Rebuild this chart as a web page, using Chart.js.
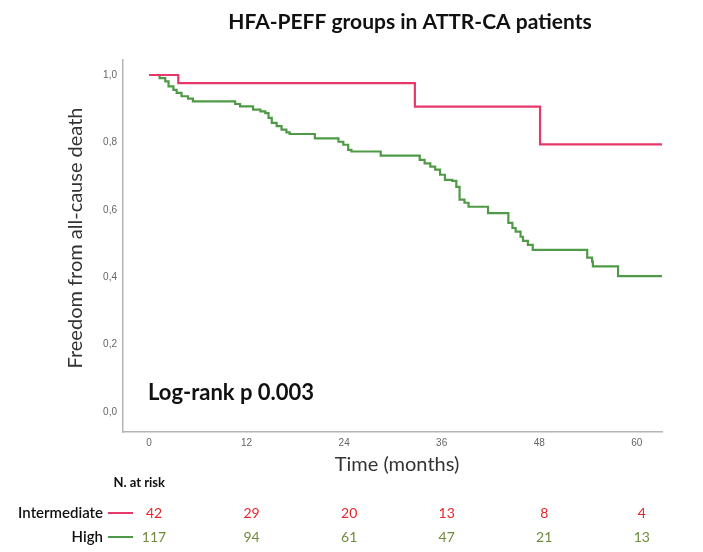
<!DOCTYPE html>
<html>
<head>
<meta charset="utf-8">
<script src="https://cdn.jsdelivr.net/npm/chart.js@4.4.1/dist/chart.umd.min.js"></script>
<style>
  html, body { margin: 0; padding: 0; background: #fff; }
  #wrap { width: 703px; height: 552px; position: relative; }
</style>
</head>
<body>
<div id="wrap"><canvas id="km" width="703" height="552"></canvas></div>
<script>
// Kaplan-Meier steps: time (months) of each drop and survival after it
const interTime = [0, 3.6, 32.7, 48.1, 63.1];
const interSurv = [1, 0.976, 0.906, 0.794, 0.794];

const highTime = [0, 1.3, 2.0, 2.4, 3.0, 3.4, 4.0, 4.8, 5.4, 10.6, 11.2, 12.8, 13.7, 14.3, 14.7,
  15.1, 15.7, 16.3, 16.9, 17.3, 20.4, 23.3, 23.9, 24.5, 24.9, 28.5, 33.3, 33.9, 34.6, 35.2,
  35.8, 36.4, 37.3, 37.8, 38.2, 38.8, 39.3, 41.7, 44.2, 44.7, 45.1, 45.7, 46.0, 46.6, 47.2,
  53.9, 54.5, 54.6, 57.7, 63.1];
const highSurv = [1, 0.991, 0.981, 0.966, 0.956, 0.947, 0.937, 0.930, 0.922, 0.914, 0.907, 0.897, 0.892, 0.887, 0.873,
  0.858, 0.848, 0.838, 0.830, 0.825, 0.812, 0.802, 0.793, 0.778, 0.773, 0.761, 0.748, 0.738, 0.728, 0.719,
  0.704, 0.689, 0.686, 0.668, 0.630, 0.621, 0.609, 0.590, 0.561, 0.546, 0.535, 0.520, 0.508, 0.496, 0.481,
  0.458, 0.446, 0.432, 0.403, 0.403];

const xTicks = [0, 12, 24, 36, 48, 60];
const yTicks = [0, 0.2, 0.4, 0.6, 0.8, 1.0];

// numbers at risk
const riskTimes = [0, 12, 24, 36, 48, 60];
const interRisk = [42, 29, 20, 13, 8, 4];
const highRisk = [117, 94, 61, 47, 21, 13];

const RED = '#e8386a';
const GREEN = '#4f9a47';

function pts(xs, ys) {
  return xs.map((x, i) => ({ x: x, y: ys[i] }));
}

const textPlugin = {
  id: 'kmText',
  afterDraw(chart) {
    const ctx = chart.ctx;
    const xs = chart.scales.x;
    const area = chart.chartArea;
    ctx.save();
    ctx.textBaseline = 'middle';

    // title
    ctx.fillStyle = '#111';
    ctx.font = 'bold 21px Lato, "Open Sans", sans-serif';
    ctx.textAlign = 'center';
    ctx.fillText('HFA-PEFF groups in ATTR-CA patients', 410, 22);

    // y axis title
    ctx.save();
    ctx.translate(76, 238);
    ctx.rotate(-Math.PI / 2);
    ctx.fillStyle = '#333';
    ctx.font = '20px Lato, "Open Sans", sans-serif';
    ctx.fillText('Freedom from all-cause death', 0, 0);
    ctx.restore();

    // x axis title
    ctx.fillStyle = '#333';
    ctx.font = '20px Lato, "Open Sans", sans-serif';
    ctx.fillText('Time (months)', 397, 465);

    // log-rank
    ctx.fillStyle = '#111';
    ctx.font = 'bold 22px Lato, "Open Sans", sans-serif';
    ctx.textAlign = 'left';
    ctx.fillText('Log-rank p 0.003', area.left + 25, 393);

    // risk table
    ctx.font = 'bold 13px Lato, sans-serif';
    ctx.textAlign = 'right';
    ctx.fillStyle = '#111';
    ctx.fillText('N. at risk', 165, 483);

    const rows = [
      { label: 'Intermediate', vals: interRisk, line: RED, num: '#e3262d', y: 513 },
      { label: 'High', vals: highRisk, line: GREEN, num: '#6f8b3c', y: 537 }
    ];
    rows.forEach(r => {
      ctx.font = '600 15px Lato, sans-serif';
      ctx.textAlign = 'right';
      ctx.fillStyle = '#111';
      ctx.fillText(r.label, 103, r.y);
      ctx.strokeStyle = r.line;
      ctx.lineWidth = 2;
      ctx.beginPath();
      ctx.moveTo(108, r.y);
      ctx.lineTo(133, r.y);
      ctx.stroke();
      ctx.textAlign = 'center';
      ctx.fillStyle = r.num;
      ctx.font = '14px Lato, sans-serif';
      r.vals.forEach((v, i) => {
        ctx.fillText(String(v), xs.getPixelForValue(riskTimes[i]) + 5, r.y);
      });
    });
    ctx.restore();
  }
};

new Chart(document.getElementById('km'), {
  type: 'line',
  data: {
    datasets: [
      {
        label: 'Intermediate',
        data: pts(interTime, interSurv),
        borderColor: RED,
        borderWidth: 2.2,
        stepped: true,
        pointRadius: 0,
        fill: false
      },
      {
        label: 'High',
        data: pts(highTime, highSurv),
        borderColor: GREEN,
        borderWidth: 2.2,
        stepped: true,
        pointRadius: 0,
        fill: false
      }
    ]
  },
  options: {
    responsive: false,
    animation: false,
    layout: { padding: { top: 60, right: 41, left: 0, bottom: 0 } },
    plugins: { legend: { display: false }, tooltip: { enabled: false } },
    scales: {
      x: {
        type: 'linear',
        min: -3.2,
        max: 63.1,
        afterFit: s => { s.height = 120; },
        afterBuildTicks: s => { s.ticks = xTicks.map(v => ({ value: v })); },
        grid: { display: false, drawTicks: false },
        border: { display: true, color: '#b4b4b4', width: 1.5 },
        ticks: { padding: 5, color: '#666', font: { size: 10, family: 'Liberation Sans, sans-serif' } }
      },
      y: {
        min: -0.0593,
        max: 1.0445,
        afterFit: s => { s.width = 123; },
        afterBuildTicks: s => { s.ticks = yTicks.map(v => ({ value: v })); },
        grid: { display: false, drawTicks: false },
        border: { display: true, color: '#b4b4b4', width: 1.5 },
        ticks: {
          padding: 6,
          color: '#666',
          font: { size: 10, family: 'Liberation Sans, sans-serif' },
          callback: v => v.toFixed(1).replace('.', ',')
        }
      }
    }
  },
  plugins: [textPlugin]
});
</script>
</body>
</html>
